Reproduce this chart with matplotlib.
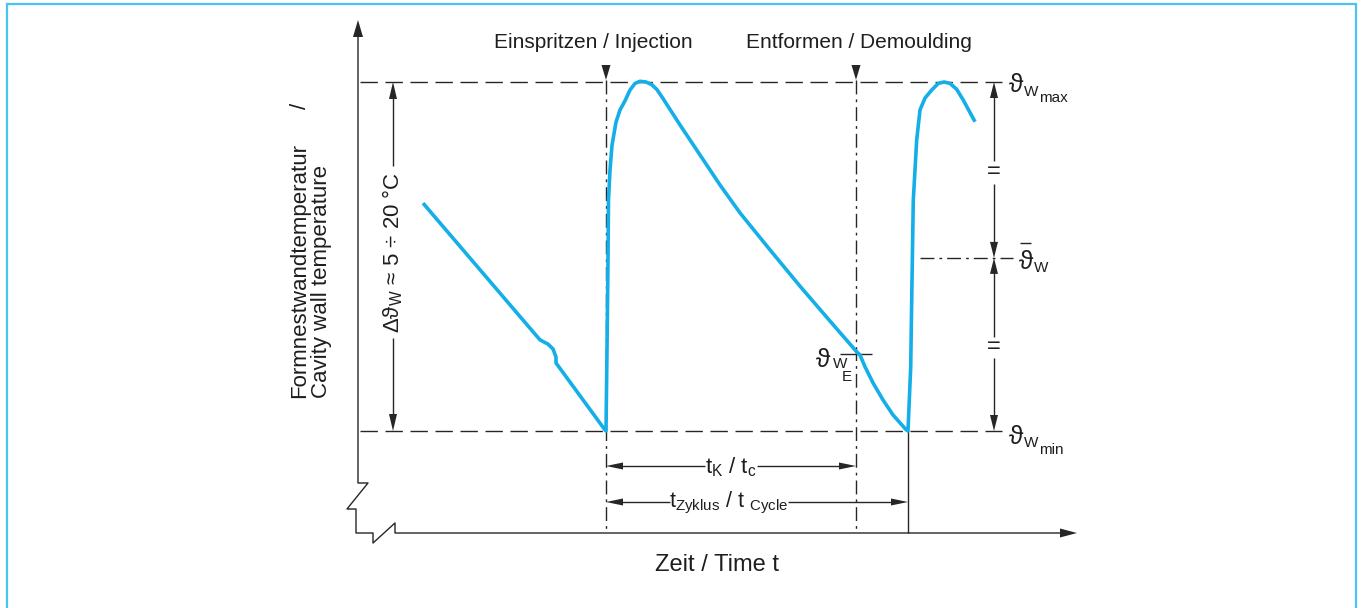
import matplotlib
matplotlib.use("Agg")
import matplotlib.pyplot as plt
from matplotlib import font_manager

# ---------------------------------------------------------------------------
# Cavity wall temperature over one injection moulding cycle (schematic).
# Time t is measured from the injection instant, temperature theta is given
# in percent of the fluctuation range (theta_min = 0, theta_max = 100).
# ---------------------------------------------------------------------------

# cooling tail of the previous cycle (with the small kink)
prev_t = [-183, -66, -58, -53, -50, -50, -1]
prev_th = [65.3, 26.1, 24.9, 23.5, 21.2, 19.5, 0.3]

# injection: steep rise, peak, cooling until demoulding
cycle_t = [0, 1, 2, 2.5, 4, 6, 10, 14, 19, 24, 29, 34, 40, 46, 51, 56,
           74, 94, 114, 134, 164, 194, 224, 251]
cycle_th = [0, 23.2, 49.0, 66.2, 74.8, 81.9, 88.5, 92.0, 94.6, 97.7, 99.6, 100.2,
            100.0, 99.2, 97.8, 95.7, 87.7, 79.1, 70.5, 62.5, 51.9, 41.5, 31.5, 22.6]

# after demoulding: drop to the minimum at the end of the cycle
demould_t = [254, 259, 267, 277, 287, 296, 300, 302]
demould_th = [21.8, 18.4, 13.8, 8.9, 4.6, 1.7, 0.4, 0.0]

# start of the next cycle
next_t = [303.3, 304.7, 305.7, 307.3, 310.7, 314, 319, 325.7, 332.3, 338, 344,
          350.7, 357.3, 369]
next_th = [8.9, 18.3, 37.5, 66.2, 83.4, 92.0, 95.4, 97.7, 99.6, 100.0, 99.6,
           97.9, 94.8, 88.6]

# characteristic instants and temperature levels
t_inject = 0
t_demould = 250
t_cycle = 302
th_min = 0
th_max = 100
th_mean = 49.6
th_E = 22.1

# ---------------------------------------------------------------------------
names = {f.name for f in font_manager.fontManager.ttflist}
NARROW = "Liberation Sans Narrow" if "Liberation Sans Narrow" in names else "Liberation Sans"

plt.rcParams["font.family"] = ["Liberation Sans", "DejaVu Sans"]
plt.rcParams["mathtext.default"] = "regular"
plt.rcParams["lines.scale_dashes"] = False

INK = "#262626"
LW = 1.0
CURVE = "#14aee8"
FRAME = "#48c4ee"

# drawing scale: 1 time unit per pixel, 3.49 px per temperature percent
X0, Y0, K = 606.0, 431.0, 3.49


def X(px):
    return px - X0


def Y(py):
    return (Y0 - py) / K


def PX(t):
    return t + X0


def PY(th):
    return Y0 - th * K


fig = plt.figure(figsize=(13.64, 6.08), dpi=100)
ax = fig.add_axes([0, 0, 1, 1])
ax.set_xlim(X(0), X(1364))
ax.set_ylim(Y(608), Y(0))
ax.axis("off")


def line(xs, ys, **kw):
    kw.setdefault("color", INK)
    kw.setdefault("lw", LW)
    ax.plot([X(v) for v in xs], [Y(v) for v in ys], solid_capstyle="butt",
            dash_capstyle="butt", **kw)


def head(xt, yt, d, L=16, W=4.0):
    if d == "up":
        pts = [(xt, yt), (xt - W, yt + L), (xt + W, yt + L)]
    elif d == "down":
        pts = [(xt, yt), (xt - W, yt - L), (xt + W, yt - L)]
    elif d == "left":
        pts = [(xt, yt), (xt + L, yt - W), (xt + L, yt + W)]
    else:
        pts = [(xt, yt), (xt - L, yt - W), (xt - L, yt + W)]
    ax.fill([X(p[0]) for p in pts], [Y(p[1]) for p in pts], color=INK, lw=0)


def txt(xp, yp, s, size, **kw):
    kw.setdefault("ha", "center")
    kw.setdefault("va", "center")
    kw.setdefault("color", "#1e1e1e")
    ax.text(X(xp), Y(yp), s, fontsize=size, **kw)


# outer frame
ax.plot([X(7), X(7), X(1356), X(1356)], [Y(608), Y(4), Y(4), Y(608)],
        color=FRAME, lw=1.6, solid_joinstyle="miter")

# axes with break marks
line([358, 358, 368, 347, 356, 356, 373, 373, 395, 395, 1062],
     [36, 483, 483, 509, 509, 533, 533, 543, 523, 533, 533])
head(358, 20, "up", L=17, W=5)
head(1077, 533, "right", L=17, W=4.5)

DASH = (0, (12.5, 5.5))
DASHDOT = (0, (10, 3.6, 2, 3.6))

# theta_max / theta_min reference levels
line([360, 1002], [PY(th_max)] * 2, ls=DASH)
line([360, 1002], [PY(th_min)] * 2, ls=DASH)

# injection and demoulding instants
line([PX(t_inject)] * 2, [80, 533], ls=DASHDOT)
line([PX(t_demould)] * 2, [80, 533], ls=DASHDOT)
head(PX(t_inject), 80, "down", L=15, W=4.5)
head(PX(t_demould), 80, "down", L=15, W=4.5)
line([PX(t_cycle)] * 2, [PY(th_min), 533])

# mean temperature level and theta_E mark
line([920, 1013], [PY(th_mean)] * 2, ls=DASHDOT)
line([840, 872], [PY(th_E)] * 2)

# delta theta dimension arrow
line([393, 393], [PY(th_max) + 10, 166])
line([393, 393], [338, PY(th_min) - 10])
head(393, PY(th_max), "up", L=17, W=4)
head(393, PY(th_min), "down", L=17, W=4)
txt(393, 252, "\u0394\u03d1$_{W}$ \u2248 5 \u00f7 20 \u00b0C", 16, rotation=90)

# right-hand dimension chain
xr = 994
line([xr, xr], [PY(th_max) + 10, 161])
line([xr, xr], [184, PY(th_mean) - 10])
line([xr, xr], [PY(th_mean) + 10, 337])
line([xr, xr], [358, PY(th_min) - 10])
head(xr, PY(th_max), "up", L=16, W=4)
head(xr, PY(th_mean), "down", L=16, W=4)
head(xr, PY(th_mean), "up", L=16, W=4)
head(xr, PY(th_min), "down", L=16, W=4)
txt(xr, 172, "=", 17)
txt(xr, 347, "=", 17)

# time dimension arrows
ty1, ty2 = 466, 502
line([PX(t_inject) + 10, 705], [ty1] * 2)
line([757, PX(t_demould) - 10], [ty1] * 2)
head(PX(t_inject), ty1, "left", L=17, W=3.5)
head(PX(t_demould), ty1, "right", L=17, W=3.5)
line([PX(t_inject) + 10, 670], [ty2] * 2)
line([788, PX(t_cycle) - 10], [ty2] * 2)
head(PX(t_inject), ty2, "left", L=17, W=3.5)
head(PX(t_cycle), ty2, "right", L=17, W=3.5)
txt(731, 467, "t$_{K}$ / t$_{c}$", 16, family=NARROW)
txt(729, 503, "t$_{Zyklus}$ / t $_{Cycle}$", 15.5, family=NARROW)

# temperature curve
curve_t = prev_t + cycle_t + demould_t + next_t
curve_th = prev_th + cycle_th + demould_th + next_th
ax.plot(curve_t, curve_th, color=CURVE, lw=2.6, solid_joinstyle="round",
        solid_capstyle="butt")

# level labels
TH = "\u03d1"
txt(1016, 85, TH, 19)
txt(1031, 92, "W", 11)
txt(1053, 98, "max", 11)

txt(1016, 437, TH, 19)
txt(1031, 443, "W", 11)
txt(1051, 450, "min", 11)

txt(1026, 262, TH, 19)
txt(1041, 268, "W", 11)
line([1020, 1031], [243, 243])

txt(823, 360, TH, 19)
txt(840, 364, "W", 11)
txt(847, 377, "E", 11)

# event labels
txt(593, 42, "Einspritzen / Injection", 15)
txt(859, 42, "Entformen / Demoulding", 15)

# axis titles
txt(300, 398, "Formnestwandtemperatur", 16, rotation=90, va="bottom")
txt(300, 106, "/", 16, rotation=90)
txt(322, 398, "Cavity wall temperature", 16, rotation=90, va="bottom")
txt(717, 565, "Zeit / Time t", 17, family=NARROW)

fig.savefig("out.png", dpi=100)
